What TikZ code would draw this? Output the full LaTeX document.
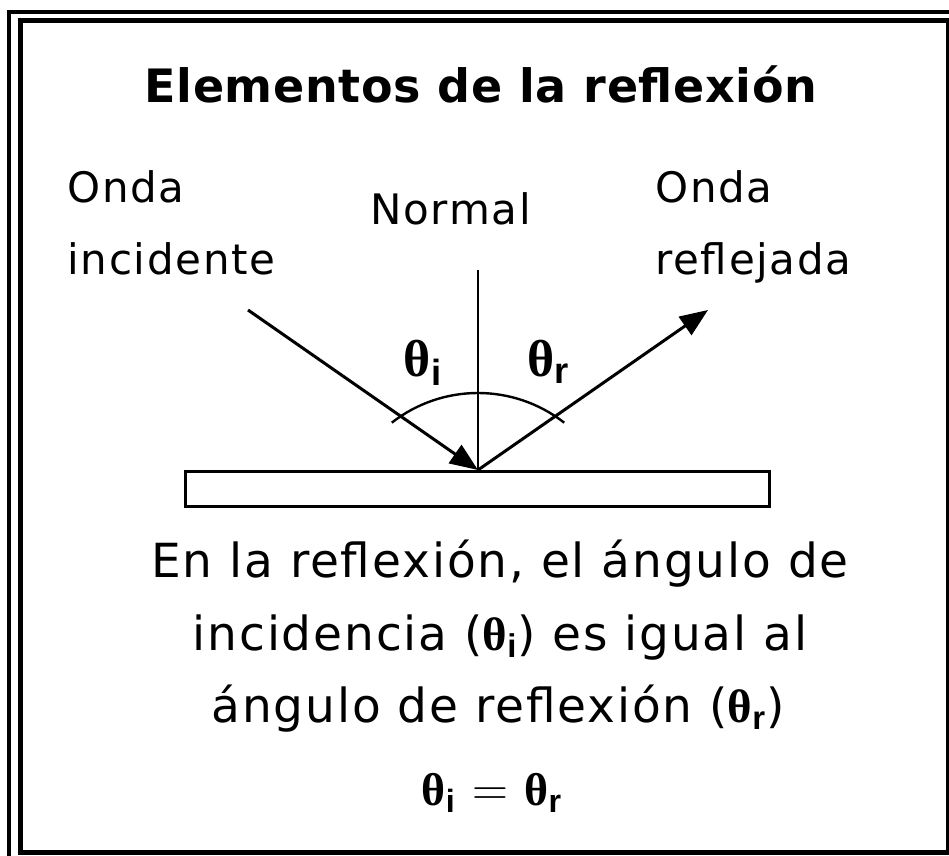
\documentclass[tikz,border=0pt]{standalone}
\usepackage{fontspec}
\usepackage{amsmath}
\setmainfont{DejaVu Sans}[LetterSpace=4]
\newfontfamily\titlefont{DejaVu Sans}[LetterSpace=1.5]
\newfontfamily\thetafont{Liberation Serif}
\newfontfamily\subfont{Liberation Sans}
\newcommand{\angsym}[1]{$\text{\thetafont\bfseries θ}_{\text{\subfont\bfseries #1}}$}
\usetikzlibrary{arrows.meta}

\begin{document}
\begin{tikzpicture}[
    x=0.5pt, y=-0.5pt,
    heading/.style={font=\titlefont\fontsize{23}{28}\selectfont\bfseries, anchor=base, inner sep=0pt},
    tag/.style={font=\fontsize{21}{25}\selectfont, anchor=base west, inner sep=0pt},
    caption/.style={font=\fontsize{23.5}{27}\selectfont, anchor=base, inner sep=0pt},
    angletag/.style={font=\fontsize{26}{30}\selectfont, anchor=base, inner sep=0pt},
    ray/.style={line width=1.5pt, -{Triangle[length=14pt, width=11pt]}},
    frame/.style={line width=2pt}
]
\useasboundingbox (0,0) rectangle (949,856);
\clip (0,0) rectangle (949,856);

% Frame
\draw[frame] (9,12) rectangle (975,880);
\draw[frame, line width=2.5pt] (20,21) rectangle (948,852);

% Title
\node[heading] (title) at (481,103) {Elementos de la reflexión};

% Labels
\node[tag] (onda1) at (67,203) {Onda};
\node[tag] (incid) at (67,275) {incidente};
\node[tag] (normal) at (370,225) {Normal};
\node[tag] (onda2) at (655,203) {Onda};
\node[tag] (refl) at (655,275) {reflejada};

% Mirror
\node[draw, line width=1.5pt, minimum width=292pt, minimum height=17.5pt, inner sep=0pt] (mirror) at (477,488.5) {};

% Rays
\coordinate (hit) at (478,470);
\coordinate (src) at (248,310);
\coordinate (dst) at (708,310);
\coordinate (top) at (478,270);
\draw[line width=1.2pt] (top) -- (hit);
\draw[ray] (src) -- (hit);
\draw[ray] (hit) -- (dst);

% Angle arc
\draw[line width=1.2pt] (478,533) ++(-128:140) arc[start angle=-128, end angle=-52, radius=140];
\node[angletag] (thi) at (423,376) {\angsym{i}};
\node[angletag] (thr) at (549,376) {\angsym{r}};

% Caption
\node[caption] (line1) at (500,577) {En la reflexión, el ángulo de};
\node[caption] (line2) at (500,650) {incidencia (\angsym{i}) es igual al};
\node[caption] (line3) at (498,722) {ángulo de reflexión (\angsym{r})};
\node[caption, font=\fontsize{23}{26}\selectfont] (law) at (492,805) {\angsym{i} $=$ \angsym{r}};

\end{tikzpicture}
\end{document}
